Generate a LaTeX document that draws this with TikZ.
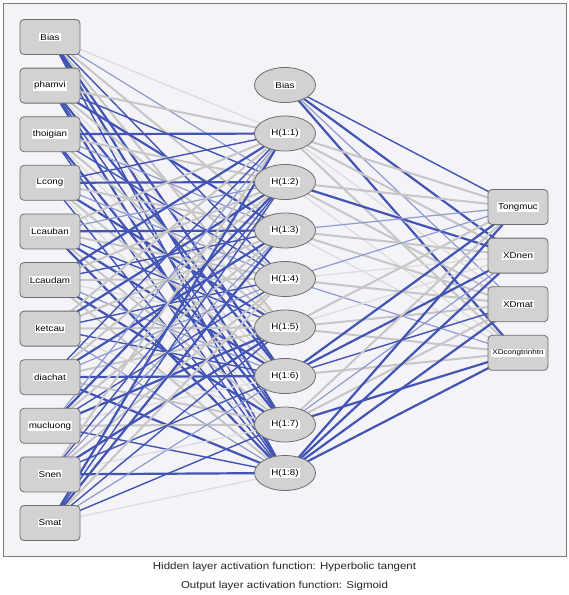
\documentclass[tikz,border=0pt]{standalone}
\usepackage{fontspec}
\setmainfont[FakeStretch=1.15]{Liberation Sans}
\usepackage{tikz}
\usetikzlibrary{shapes.geometric, backgrounds}
\definecolor{nnblue}{HTML}{4254B4}
\definecolor{nnlightblue}{HTML}{8F9BCF}
\definecolor{nngray}{HTML}{C6C6C6}
\definecolor{nnlightgray}{HTML}{DCDCDC}
\definecolor{nnfill}{HTML}{D2D2D2}
\definecolor{nnedge}{HTML}{6E6E6E}
\definecolor{nnbg}{HTML}{F4F3F8}
\definecolor{nnframe}{HTML}{7A7A7A}
\newcommand{\wlab}[1]{{\setlength{\fboxsep}{1pt}\colorbox{white}{#1}}}

\begin{document}
\begin{tikzpicture}[x=1pt, y=-1pt,
  inbox/.style={rectangle, rounded corners=4pt, draw=nnedge, fill=nnfill, line width=0.8pt, minimum width=60pt, minimum height=35pt, inner sep=0pt, font=\fontsize{8.5}{10}\selectfont},
  hidnode/.style={ellipse, draw=nnedge, fill=nnfill, line width=0.8pt, minimum width=61pt, minimum height=35pt, inner sep=0pt, font=\fontsize{8.5}{10}\selectfont},
  capt/.style={font=\fontsize{10}{12}\selectfont, text=black!85},
  wB/.style={nnblue, line width=2.2pt},
  wb/.style={nnblue, line width=1.4pt},
  wl/.style={nnlightblue, line width=1.2pt},
  wg/.style={nngray, line width=2pt},
  wG/.style={nnlightgray, line width=1.3pt}
]
\useasboundingbox (0,0) rectangle (569,595);

% input layer
\foreach \name [count=\k from 0] in {Bias, phamvi, thoigian, Lcong, Lcauban, Lcaudam, ketcau, diachat, mucluong, Snen, Smat}
  \node[inbox] (i\k) at (50, 37+48.6*\k) {\wlab{\name}};

% hidden layer
\foreach \name [count=\k from 0] in {Bias, H(1:1), H(1:2), H(1:3), H(1:4), H(1:5), H(1:6), H(1:7), H(1:8)}
  \node[hidnode] (h\k) at (285, 85+48.5*\k) {\wlab{\name}};

% output layer
\node[inbox] (o1) at (518, 207) {\wlab{Tongmuc}};
\node[inbox] (o2) at (518, 255.6) {\wlab{XDnen}};
\node[inbox] (o3) at (518, 304.2) {\wlab{XDmat}};
\node[inbox, font=\fontsize{7}{8}\selectfont] (o4) at (518, 352.8) {\wlab{XDcongtrinhtn}};

\node[capt] (cap1) at (284.5, 567) {Hidden layer activation function: Hyperbolic tangent};
\node[capt] (cap2) at (284.5, 586) {Output layer activation function: Sigmoid};

\begin{pgfonlayer}{background}
\fill[white] (0,0) rectangle (569,595);
\draw[nnframe, fill=nnbg, line width=0.8pt] (3,3) rectangle (566,556);
% input -> hidden
\foreach \src/\codes in {0/{G,l,g,b,g,B,B,b}, 1/{g,b,B,g,G,B,b,B}, 2/{B,g,l,b,g,G,B,b},
    3/{b,B,g,l,B,g,G,b}, 4/{g,l,B,g,b,B,g,B}, 5/{B,g,b,g,G,l,B,g}, 6/{g,B,g,b,g,b,G,l},
    7/{b,g,B,l,g,B,g,B}, 8/{l,B,g,b,B,G,g,b}, 9/{g,b,l,g,B,b,G,B}, 10/{B,b,B,g,b,l,b,G}}
  \foreach \c [count=\k] in \codes
    \draw[w\c] (i\src.center) -- (h\k.center);
% hidden -> output
\foreach \src/\codes in {0/{b,B,l,B}, 1/{g,g,G,g}, 2/{g,B,g,G}, 3/{l,g,g,G}, 4/{l,G,g,l},
    5/{g,G,g,g}, 6/{B,B,b,g}, 7/{g,l,g,B}, 8/{B,B,B,B}}
  \foreach \c [count=\k] in \codes
    \draw[w\c] (h\src.center) -- (o\k.center);
\end{pgfonlayer}
\end{tikzpicture}
\end{document}
